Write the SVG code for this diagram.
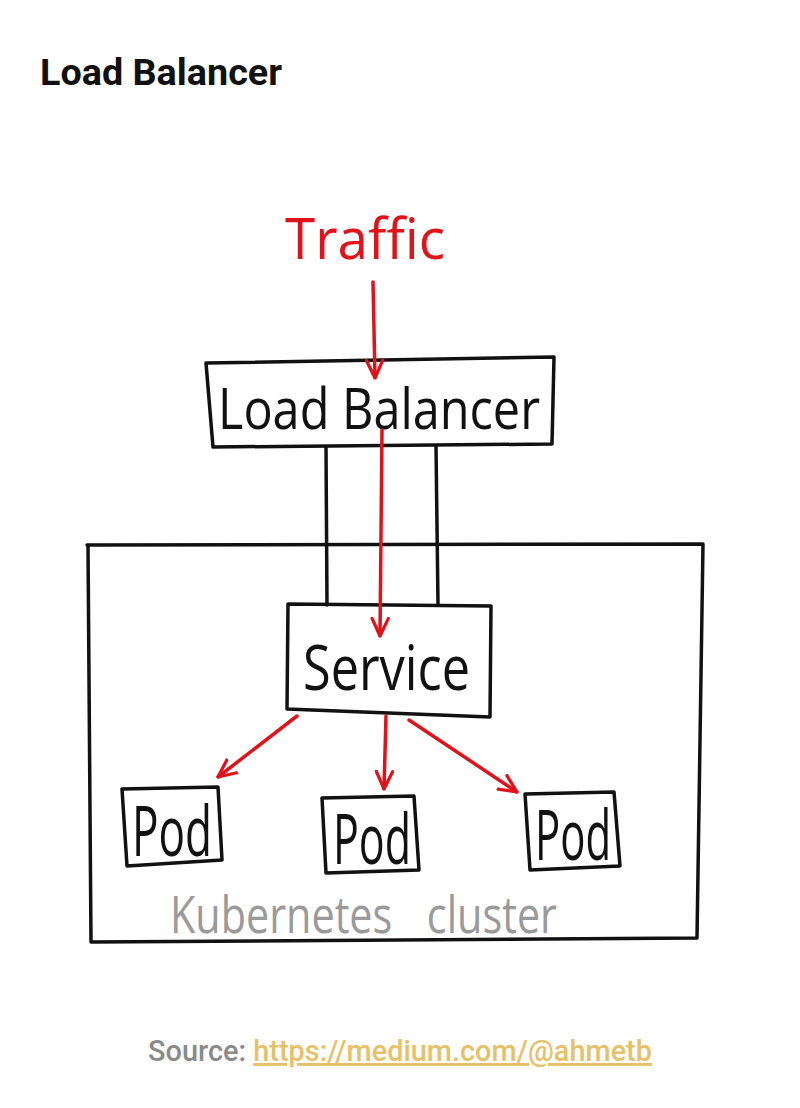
<svg xmlns="http://www.w3.org/2000/svg" width="800" height="1108" viewBox="0 0 800 1108">
<defs>
<style>
.box{fill:none;stroke:#111;stroke-width:3.5;stroke-linejoin:round;stroke-linecap:round}
.red{fill:none;stroke:#e0121a;stroke-width:3.5;stroke-linecap:round}
.hand{font-family:"Open Sans","DejaVu Sans",sans-serif;font-weight:400}
.lbl{fill:#111}
</style>
<marker id="ah" viewBox="0 0 16 16" refX="15" refY="8" markerWidth="20" markerHeight="20" markerUnits="userSpaceOnUse" orient="auto">
<path d="M1,1.5 L15,8 L1,14.5" fill="none" stroke="#e0121a" stroke-width="2.6" stroke-linecap="round" stroke-linejoin="round"/>
</marker>
</defs>
<rect width="800" height="1108" fill="#ffffff"/>
<text x="40" y="85" font-family="Roboto,'Liberation Sans',sans-serif" font-weight="700" font-size="37" fill="#111" textLength="242" lengthAdjust="spacingAndGlyphs">Load Balancer</text>

<g id="cluster">
<path class="box" d="M87,545 L703,544 L697,938 L91,942 L88,545"/>
<text class="hand" x="170" y="933" font-size="52" fill="#9a9a9a" word-spacing="30" textLength="387" lengthAdjust="spacingAndGlyphs">Kubernetes cluster</text>
</g>

<g id="traffic">
<text class="hand" x="285" y="259" font-size="56" fill="#e0121a" textLength="160" lengthAdjust="spacingAndGlyphs">Traffic</text>
</g>

<g id="load-balancer">
<path class="box" d="M206,363 L554,357 L552,444 L213,447 Z"/>
<text class="hand lbl" x="218" y="429" font-size="56" textLength="322" lengthAdjust="spacingAndGlyphs">Load Balancer</text>
</g>

<g id="service">
<path class="box" d="M288,604 L491,606 L490,717 L287,709 Z"/>
<text class="hand lbl" x="303" y="690" font-size="62" textLength="167" lengthAdjust="spacingAndGlyphs">Service</text>
</g>

<g id="pod1">
<path class="box" d="M122,789 L218,787 L222,860 L127,866 Z"/>
<text class="hand lbl" x="132" y="856" font-size="70" textLength="80" lengthAdjust="spacingAndGlyphs">Pod</text>
</g>
<g id="pod2">
<path class="box" d="M322,798 L414,796 L419,870 L326,873 Z"/>
<text class="hand lbl" x="333" y="864" font-size="70" textLength="78" lengthAdjust="spacingAndGlyphs">Pod</text>
</g>
<g id="pod3">
<path class="box" d="M525,794 L614,792 L620,866 L530,870 Z"/>
<text class="hand lbl" x="535" y="860" font-size="70" textLength="76" lengthAdjust="spacingAndGlyphs">Pod</text>
</g>

<g id="connectors">
<line class="box" x1="326" y1="447" x2="327" y2="605"/>
<line class="box" x1="436" y1="446" x2="438" y2="605"/>
<line class="red" x1="373" y1="282" x2="375" y2="378" marker-end="url(#ah)"/>
<line class="red" x1="382" y1="430" x2="380" y2="636" marker-end="url(#ah)"/>
<line class="red" x1="297" y1="716" x2="218" y2="777" marker-end="url(#ah)"/>
<line class="red" x1="386" y1="716" x2="384" y2="789" marker-end="url(#ah)"/>
<line class="red" x1="409" y1="720" x2="517" y2="792" marker-end="url(#ah)"/>
</g>

<text x="148" y="1061" font-family="Roboto,'Liberation Sans',sans-serif" font-weight="500" font-size="29" fill="#8a8a8a" textLength="504" lengthAdjust="spacingAndGlyphs">Source: <tspan fill="#e6c16a" text-decoration="underline">https://medium.com/@ahmetb</tspan></text>
</svg>
